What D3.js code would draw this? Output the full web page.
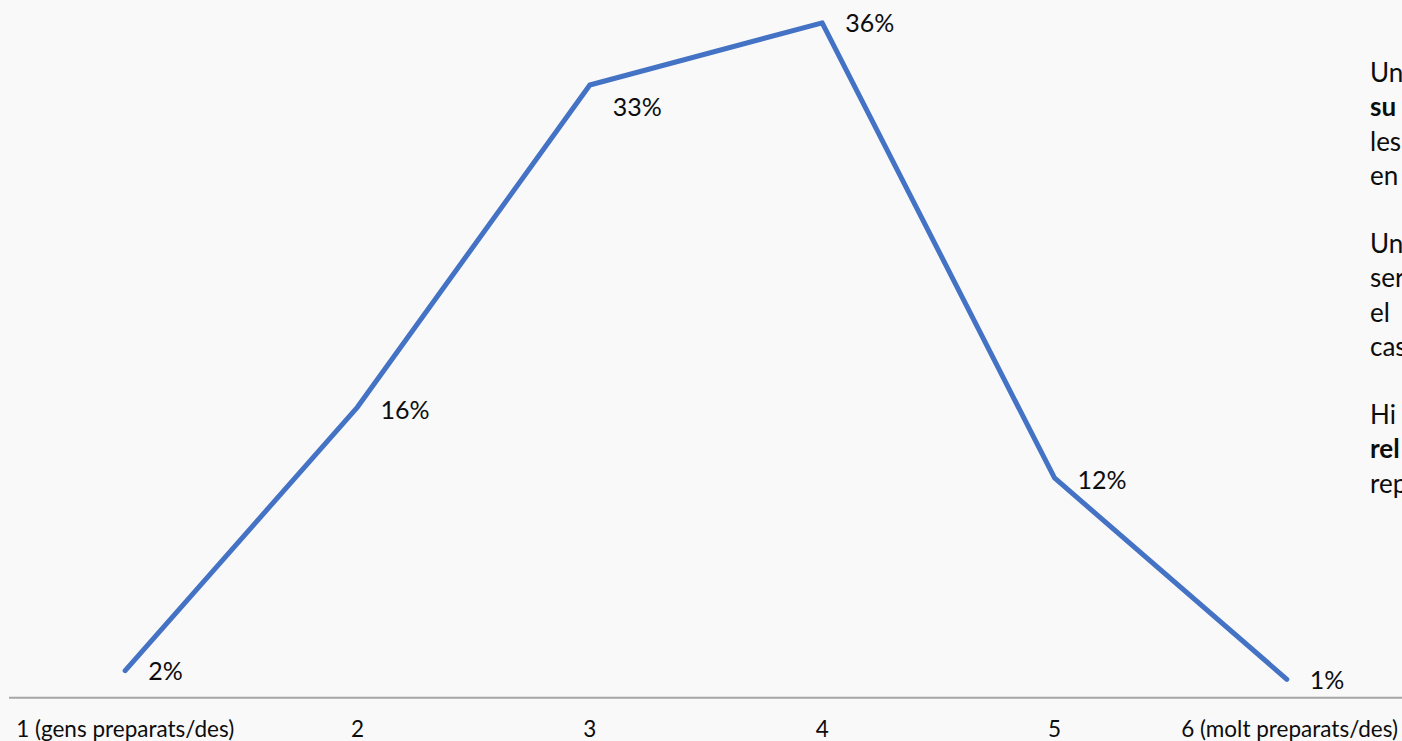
<!DOCTYPE html>
<html>
<head>
<meta charset="utf-8">
<script src="https://cdn.jsdelivr.net/npm/d3@7/dist/d3.min.js"></script>
<style>
  html, body { margin: 0; padding: 0; background: #f9f9f9; overflow: hidden; }
  svg { display: block; }
  text { font-family: "Lato", "Open Sans", sans-serif; fill: #0d0d0d; }
</style>
</head>
<body>
<svg id="chart" width="1402" height="741"></svg>
<script>
// ---- data ----
const categories = ["1 (gens preparats/des)", "2", "3", "4", "5", "6 (molt preparats/des)"];
const values = [1.70, 15.72, 32.85, 36.16, 11.95, 1.24]; // percent
const valueLabels = ["2%", "16%", "33%", "36%", "12%", "1%"];
const sideLines = ["Un", "su", "les", "en", "", "Un", "ser", "el", "cas", "", "Hi", "rel", "rep"];
const sideBold = [false, true, false, false, false, false, false, false, false, false, false, true, false];

const W = 1402, H = 741;
const svg = d3.select("#chart");
svg.append("rect").attr("width", W).attr("height", H).attr("fill", "#f9f9f9");

const x = d3.scaleBand().domain(categories).range([9, 1403]).padding(0);
const y = d3.scaleLinear().domain([0, 40]).range([702.6, 702.6 - 40 * 18.8]);
const cx = d => x(d) + x.bandwidth() / 2;

// baseline axis
svg.append("line")
  .attr("x1", x.range()[0]).attr("x2", x.range()[1])
  .attr("y1", 697.7).attr("y2", 697.7)
  .attr("stroke", "#a6a6a6").attr("stroke-width", 2);

// category labels
const lastIdx = categories.length - 1;
svg.append("g").selectAll("text").data(categories).join("text")
  .attr("x", (d, i) => i === lastIdx ? 1398 : cx(d))
  .attr("y", 729)
  .attr("dy", "0.35em")
  .attr("text-anchor", (d, i) => i === lastIdx ? "end" : "middle")
  .style("font-size", "22.5px")
  .text(d => d);

// line
const pts = categories.map((c, i) => [cx(c), y(values[i])]);
svg.append("path")
  .attr("d", d3.line()(pts))
  .attr("fill", "none")
  .attr("stroke", "#4472C4")
  .attr("stroke-width", 5)
  .attr("stroke-linecap", "round")
  .attr("stroke-linejoin", "round");

// data labels
const labelDy = [1, 3, 22, 0, 2, 1];
svg.append("g").selectAll("text").data(categories).join("text")
  .attr("x", d => cx(d) + 23)
  .attr("y", (d, i) => y(values[i]) + labelDy[i])
  .attr("dy", "0.35em")
  .style("font-size", "25px")
  .text((d, i) => valueLabels[i]);

// clipped side text
const side = svg.append("g");
side.selectAll("text").data(sideLines).join("text")
  .attr("x", 1370)
  .attr("y", (d, i) => 73 + 34.2 * i)
  .attr("dy", "0.35em")
  .style("font-size", "26px")
  .style("font-weight", (d, i) => sideBold[i] ? "bold" : "normal")
  .text(d => d);
</script>
</body>
</html>
